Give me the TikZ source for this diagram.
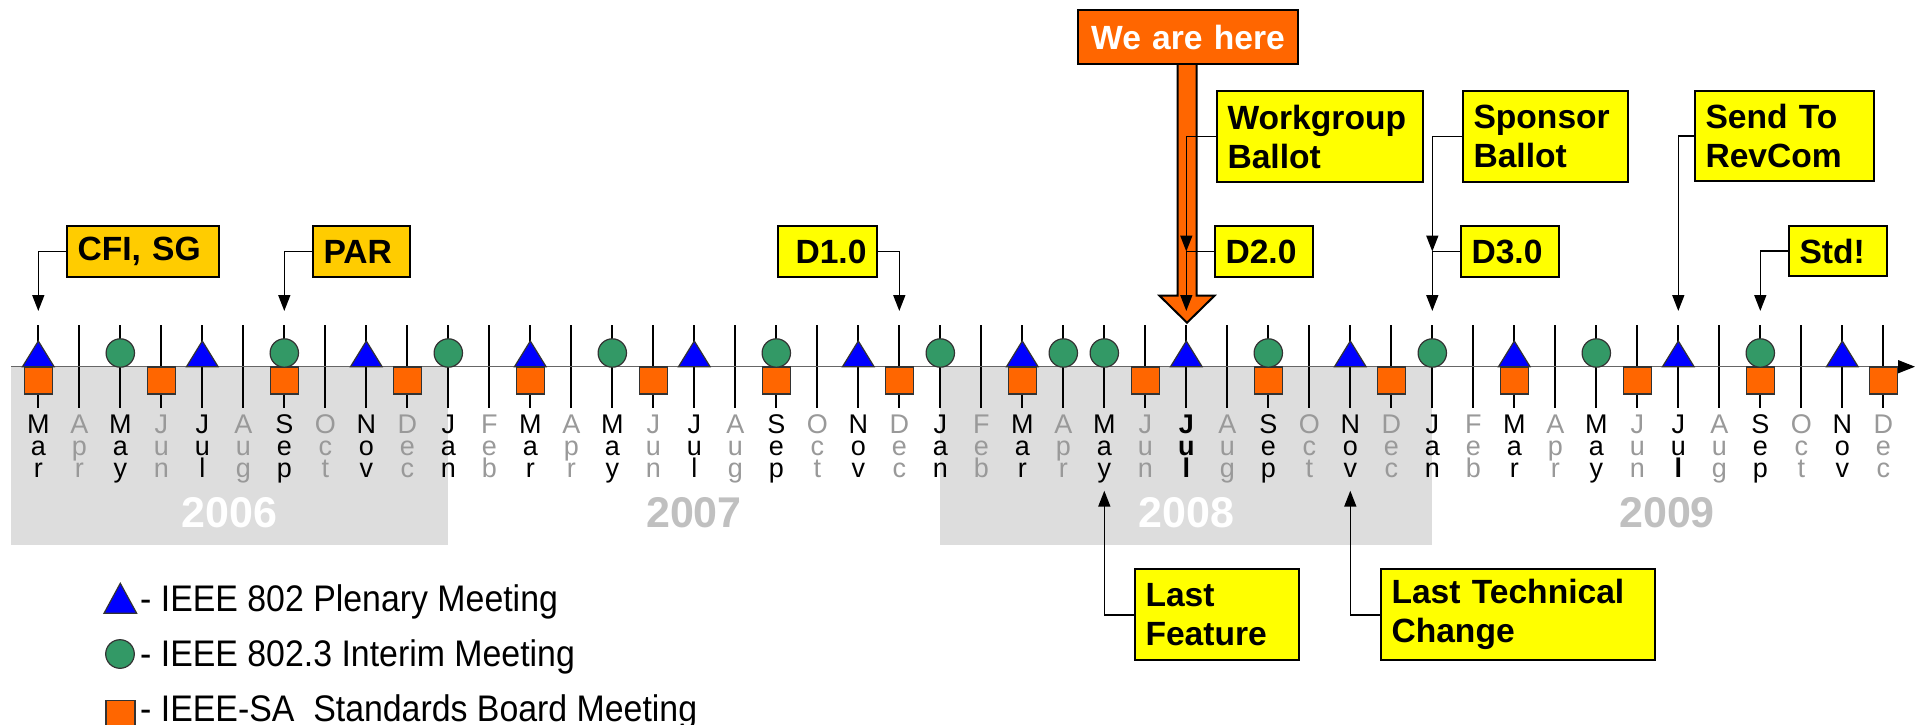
\documentclass[tikz,border=0pt]{standalone}
\usepackage{fontspec}
\setmainfont{Liberation Sans}
\newfontfamily\legendfamily{Liberation Sans}[FakeStretch=0.915]
\usetikzlibrary{arrows.meta,calc}
\definecolor{boardorange}{HTML}{FF6600}
\definecolor{interimgreen}{HTML}{339966}
\definecolor{plenaryblue}{HTML}{0000FF}
\definecolor{calloutgold}{HTML}{FFCC00}
\definecolor{calloutyellow}{HTML}{FFFF00}
\definecolor{yearshade}{HTML}{DDDDDD}
\definecolor{monthgray}{HTML}{999999}
\definecolor{yeargray}{HTML}{C0C0C0}
\newcommand\calloutfont{\bfseries\fontsize{33.6}{39}\selectfont}
\newcommand\monthfont{\fontsize{27}{22}\selectfont}
\newcommand\yearfont{\bfseries\fontsize{43}{43}\selectfont}
\def\monthA#1{\ifcase#1 J\or F\or M\or A\or M\or J\or J\or A\or S\or O\or N\or D\fi}
\def\monthB#1{\ifcase#1 a\or e\or a\or p\or a\or u\or u\or u\or e\or c\or o\or e\fi}
\def\monthC#1{\ifcase#1 n\or b\or r\or r\or y\or n\or l\or g\or p\or t\or v\or c\fi}
\tikzset{
	monthtick/.style={draw=black, line width=1.8pt},
	axisline/.style={draw=black!60, line width=1.4pt, -{Triangle[length=17pt,width=13pt,black]}},
	plenary/.style={draw=black!80, line width=1.2pt, fill=plenaryblue},
	interim/.style={draw=black!80, line width=1.2pt, fill=interimgreen},
	board/.style={draw=black!80, line width=1.2pt, fill=boardorange},
	callout/.style={draw=black, line width=2pt, anchor=north west, inner xsep=10.5pt, inner ysep=0pt, align=left, font=\calloutfont},
	conn/.style={draw=black, line width=1.6pt, -{Triangle[length=16pt,width=12pt]}},
	mletter/.style={anchor=base, inner sep=0pt, font=\monthfont},
	yearlabel/.style={anchor=base, inner sep=0pt, font=\yearfont},
	legendtext/.style={anchor=base west, inner sep=0pt, font=\legendfamily\fontsize{37}{37}\selectfont}
}

\begin{document}
\begin{tikzpicture}[x=1pt,y=-1pt]
		%%%%% START %%%%%
		\useasboundingbox (0,0) rectangle (1931,725);
		\fill[white] (0,0) rectangle (1931,725);
		
		% shaded years
		\fill[yearshade] (11,366.7) rectangle (448.3,545);
		\fill[yearshade] (940.3,366.7) rectangle (1432.3,545);
		\node[yearlabel, text=white] (y2006) at (229.5,527) {2006};
		\node[yearlabel, text=yeargray] (y2007) at (694,527) {2007};
		\node[yearlabel, text=white] (y2008) at (1186.3,527) {2008};
		\node[yearlabel, text=yeargray] (y2009) at (1667,527) {2009};
		
		% months, Mar 2006 = 0
		\foreach \i in {0,...,45}{
			\pgfmathsetmacro\x{38.3+41*\i}
			\pgfmathtruncatemacro\m{mod(\i+2,12)}
			\ifodd\m \def\mcol{monthgray}\else\def\mcol{black}\fi
			\draw[monthtick] (\x,325) -- (\x,408.3);
			\coordinate (m\i) at (\x,311);
			\coordinate (u\i) at (\x,490.7);
			\node[mletter, text=\mcol] (ml\i a) at (\x,433) {\ifnum\i=28 \bfseries\fi\monthA{\m}};
			\node[mletter, text=\mcol] (ml\i b) at (\x,455) {\ifnum\i=28 \bfseries\fi\monthB{\m}};
			\node[mletter, text=\mcol] (ml\i c) at (\x,477) {\ifnum\i=28 \bfseries\fi\ifnum\i=40 \bfseries\fi\monthC{\m}};
		}
		\draw[axisline] (11,366.7) -- (1915,366.7);
		
		% meetings
		\foreach \i in {0,3,...,45}{
			\pgfmathsetmacro\x{38.3+41*\i}
			\draw[board] (\x-13.8,367) rectangle (\x+13.8,394);
		}
		\foreach \i in {0,4,...,44}{
			\pgfmathsetmacro\x{38.3+41*\i}
			\draw[plenary] (\x-15.8,366.7) -- (\x,341) -- (\x+15.8,366.7) -- cycle;
		}
		\foreach \i in {2,6,10,14,18,22,25,26,30,34,38,42}{
			\pgfmathsetmacro\x{38.3+41*\i}
			\draw[interim] (\x,353) circle (14.2pt);
		}
		
		% we are here
		\draw[line width=2pt, fill=boardorange] (1177.5,62) -- (1177.5,295.7) -- (1159.5,295.7) -- (1187,322.7) -- (1214.5,295.7) -- (1196.5,295.7) -- (1196.5,62);
		\node[callout, fill=boardorange, text=white, align=center, text width=199pt, minimum height=54pt] (here) at (1077,9) {We are here};
		
		% milestones
		\node[callout, fill=calloutgold, text width=131pt, minimum height=51pt] (cfi) at (66,225) {CFI, SG};
		\node[callout, fill=calloutgold, text width=76pt, minimum height=51pt] (par) at (312,225) {PAR};
		\node[callout, fill=calloutyellow, align=right, text width=78pt, minimum height=51pt] (d1) at (777,225) {D1.0};
		\node[callout, fill=calloutyellow, text width=185pt, minimum height=91pt] (wg) at (1216,90) {Workgroup\\Ballot};
		\node[callout, fill=calloutyellow, text width=77pt, minimum height=51pt] (d2) at (1214,225) {D2.0};
		\node[callout, fill=calloutyellow, text width=143.5pt, minimum height=91pt] (sb) at (1462,90) {Sponsor\\Ballot};
		\node[callout, fill=calloutyellow, text width=77pt, minimum height=51pt] (d3) at (1460,225) {D3.0};
		\node[callout, fill=calloutyellow, text width=158pt, minimum height=90pt] (rev) at (1694,90) {Send To\\RevCom};
		\node[callout, fill=calloutyellow, text width=77pt, minimum height=50pt] (std) at (1788,225) {Std!};
		\node[callout, fill=calloutyellow, text width=143pt, minimum height=91pt] (lf) at (1134,568.3) {Last\\Feature};
		\node[callout, fill=calloutyellow, text width=253pt, minimum height=91pt] (ltc) at (1380,568.3) {Last Technical\\Change};
		
		\draw[conn] (cfi.west) -| (m0);
		\draw[conn] (par.west) -| (m6);
		\draw[conn] (d1.east) -| (m21);
		\draw[conn] (wg.west) -| (m28 |- d2.west);
		\draw[conn] (d2.west) -| (m28);
		\draw[conn] (sb.west) -| (m34 |- d3.west);
		\draw[conn] (d3.west) -| (m34);
		\draw[conn] (rev.west) -| (m40);
		\draw[conn] (std.west) -| (m42);
		\draw[conn] (lf.west) -| (u26);
		\draw[conn] (ltc.west) -| (u32);
		
		% legend
		\draw[plenary] (104,613.3) -- (120.3,583.3) -- (136.7,613.3) -- cycle;
		\draw[interim] (120,654) circle (14.3pt);
		\draw[board] (106,700.5) rectangle (135,729);
		\node[legendtext] (lgplen) at (140,611.7) {- IEEE 802 Plenary Meeting};
		\node[legendtext] (lgint) at (140,666.7) {- IEEE 802.3 Interim Meeting};
		\node[legendtext] (lgsa) at (140,721.7) {- IEEE-SA\ \ Standards Board Meeting};
		%%%%% END %%%%%
\end{tikzpicture}
\end{document}
